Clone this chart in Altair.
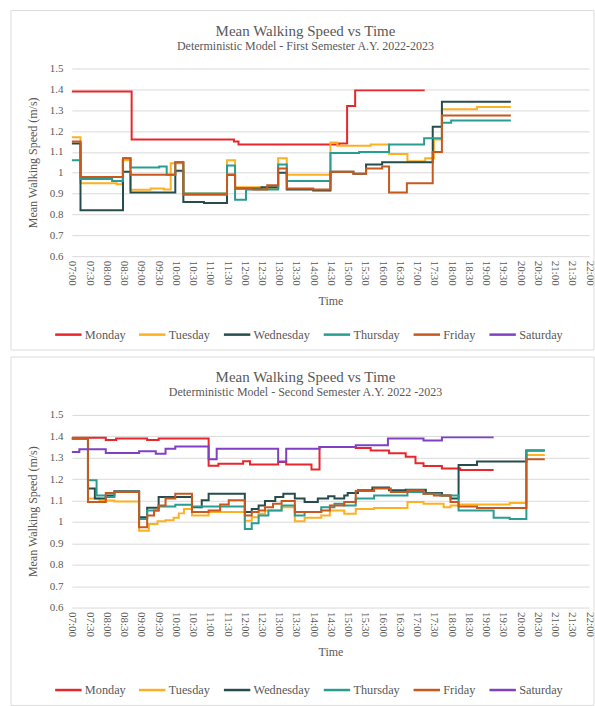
import json
import altair as alt
import pandas as pd

# Series order, colours and axis labels
DAYS = ["Monday", "Tuesday", "Wednesday", "Thursday", "Friday", "Saturday"]
COLORS = ["#E8262B", "#FDB022", "#264D4C", "#2A9D93", "#C7591F", "#8040C4"]
TIME_LABELS = ["07:00", "07:30", "08:00", "08:30", "09:00", "09:30", "10:00", "10:30",
               "11:00", "11:30", "12:00", "12:30", "13:00", "13:30", "14:00", "14:30",
               "15:00", "15:30", "16:00", "16:30", "17:00", "17:30", "18:00", "18:30",
               "19:00", "19:30", "20:00", "20:30", "21:00", "21:30", "22:00"]
SPEED_TICKS = [0.6, 0.7, 0.8, 0.9, 1.0, 1.1, 1.2, 1.3, 1.4, 1.5]
TITLE = "Mean Walking Speed vs Time"
SUBTITLE_1 = "Deterministic Model - First Semester A.Y. 2022-2023"
SUBTITLE_2 = "Deterministic Model - Second Semester A.Y. 2022 -2023"

# First semester: (time the level starts, mean speed m/s); last entry closes the run
sem1_monday = [("07:00", 1.39), ("08:44", 1.16), ("11:42", 1.15), ("11:50", 1.135),
               ("14:45", 1.14), ("14:59", 1.32), ("15:13", 1.395), ("17:14", 1.395)]
sem1_tuesday = [("07:00", 1.17), ("07:15", 0.95), ("08:18", 0.945), ("08:28", 1.06),
                ("08:42", 0.918), ("09:17", 0.925), ("09:40", 0.92), ("09:52", 1.045),
                ("10:14", 0.90), ("11:30", 1.06), ("11:44", 0.93), ("12:30", 0.925),
                ("12:59", 1.07), ("13:14", 0.99), ("14:30", 1.145), ("14:42", 1.13),
                ("15:40", 1.135), ("16:12", 1.09), ("16:44", 1.055), ("17:15", 1.07),
                ("17:30", 1.16), ("17:44", 1.305), ("18:45", 1.315), ("19:44", 1.315)]
sem1_wednesday = [("07:00", 1.14), ("07:15", 0.82), ("08:29", 1.005), ("08:42", 0.905),
                  ("10:00", 1.01), ("10:14", 0.86), ("10:50", 0.855), ("11:30", 0.99),
                  ("11:44", 0.925), ("12:30", 0.93), ("12:59", 1.0), ("13:14", 0.92),
                  ("14:00", 0.915), ("14:30", 1.005), ("15:10", 0.995), ("15:32", 1.04),
                  ("16:00", 1.05), ("17:28", 1.22), ("17:44", 1.34), ("19:44", 1.34)]
sem1_thursday = [("07:00", 1.06), ("07:15", 0.97), ("08:10", 0.96), ("08:29", 1.07),
                 ("08:42", 1.025), ("09:32", 1.03), ("09:45", 0.99), ("10:00", 1.05),
                 ("10:14", 0.90), ("11:30", 1.035), ("11:44", 0.87), ("12:03", 0.92),
                 ("12:59", 1.04), ("13:14", 0.96), ("14:30", 1.095), ("15:20", 1.10),
                 ("16:12", 1.135), ("17:13", 1.165), ("17:44", 1.24), ("18:00", 1.25),
                 ("19:44", 1.25)]
sem1_friday = [("07:00", 1.15), ("07:15", 0.98), ("08:29", 1.07), ("08:42", 0.99),
               ("10:00", 1.05), ("10:14", 0.895), ("11:30", 0.99), ("11:44", 0.925),
               ("12:15", 0.92), ("12:40", 0.94), ("12:59", 1.02), ("13:14", 0.925),
               ("14:00", 0.92), ("14:30", 1.005), ("15:10", 0.995), ("15:32", 1.02),
               ("16:00", 1.03), ("16:12", 0.905), ("16:43", 0.95), ("17:28", 1.10),
               ("17:44", 1.275), ("19:44", 1.275)]

# Second semester
sem2_monday = [("07:00", 1.393), ("07:59", 1.383), ("08:17", 1.39), ("09:11", 1.383),
               ("09:31", 1.39), ("10:58", 1.263), ("11:15", 1.272), ("11:58", 1.283),
               ("12:10", 1.268), ("12:59", 1.28), ("13:13", 1.268), ("13:57", 1.245),
               ("14:11", 1.35), ("15:14", 1.345), ("15:40", 1.334), ("16:12", 1.321),
               ("16:41", 1.305), ("16:58", 1.274), ("17:12", 1.261), ("17:44", 1.25),
               ("18:16", 1.243), ("19:14", 1.243)]
sem2_tuesday = [("07:00", 1.39), ("07:28", 1.109), ("07:48", 1.10), ("08:14", 1.096),
                ("08:57", 0.959), ("09:14", 0.99), ("09:29", 1.003), ("09:43", 1.008),
                ("09:57", 1.02), ("10:06", 1.04), ("10:15", 1.061), ("10:29", 1.03),
                ("10:58", 1.046), ("12:01", 1.006), ("12:13", 1.022), ("12:25", 1.038),
                ("12:36", 1.053), ("13:05", 1.069), ("13:28", 1.003), ("13:45", 1.019),
                ("14:14", 1.03), ("14:29", 1.053), ("14:54", 1.038), ("15:14", 1.061),
                ("15:46", 1.065), ("16:44", 1.093), ("17:12", 1.085), ("17:47", 1.069),
                ("17:59", 1.077), ("18:13", 1.082), ("19:42", 1.088), ("20:11", 1.313),
                ("20:43", 1.313)]
sem2_wednesday = [("07:00", 1.39), ("07:28", 1.156), ("07:40", 1.109), ("07:59", 1.124),
                  ("08:14", 1.143), ("08:57", 1.022), ("09:11", 1.066), ("09:31", 1.117),
                  ("10:29", 1.069), ("10:46", 1.101), ("10:58", 1.132), ("12:01", 1.046),
                  ("12:13", 1.061), ("12:25", 1.077), ("12:36", 1.098), ("12:54", 1.117),
                  ("13:08", 1.132), ("13:28", 1.109), ("13:45", 1.093), ("14:08", 1.109),
                  ("14:26", 1.12), ("14:37", 1.109), ("14:54", 1.124), ("15:00", 1.135),
                  ("15:18", 1.148), ("15:43", 1.161), ("16:12", 1.148), ("16:41", 1.15),
                  ("17:16", 1.135), ("17:44", 1.124), ("17:59", 1.109), ("18:13", 1.266),
                  ("18:45", 1.282), ("20:11", 1.334), ("20:43", 1.334)]
sem2_thursday = [("07:00", 1.39), ("07:28", 1.195), ("07:43", 1.124), ("07:59", 1.117),
                 ("08:14", 1.14), ("08:57", 1.014), ("09:11", 1.053), ("09:31", 1.072),
                 ("10:00", 1.08), ("10:29", 1.072), ("12:01", 0.967), ("12:13", 0.994),
                 ("12:25", 1.03), ("12:42", 1.053), ("13:05", 1.077), ("13:28", 1.03),
                 ("13:45", 1.046), ("14:14", 1.069), ("14:37", 1.085), ("14:54", 1.077),
                 ("15:14", 1.109), ("15:46", 1.124), ("16:44", 1.14), ("17:12", 1.132),
                 ("17:41", 1.124), ("18:13", 1.053), ("19:14", 1.019), ("19:42", 1.014),
                 ("20:11", 1.334), ("20:43", 1.334)]
sem2_friday = [("07:00", 1.39), ("07:28", 1.093), ("07:59", 1.135), ("08:14", 1.14),
               ("08:57", 0.975), ("09:11", 1.03), ("09:23", 1.053), ("09:31", 1.077),
               ("09:43", 1.109), ("10:00", 1.132), ("10:29", 1.046), ("10:58", 1.053),
               ("11:18", 1.082), ("11:33", 1.101), ("12:01", 1.03), ("12:13", 1.046),
               ("12:25", 1.053), ("12:36", 1.069), ("12:50", 1.085), ("13:05", 1.098),
               ("13:28", 1.046), ("14:14", 1.053), ("14:29", 1.077), ("14:54", 1.093),
               ("15:14", 1.145), ("15:46", 1.156), ("16:15", 1.14), ("16:44", 1.148),
               ("17:12", 1.132), ("17:30", 1.124), ("17:59", 1.093), ("18:13", 1.072),
               ("18:45", 1.065), ("20:11", 1.293), ("20:43", 1.293)]
sem2_saturday = [("07:00", 1.327), ("07:13", 1.34), ("07:59", 1.322), ("08:57", 1.33),
                 ("09:26", 1.318), ("09:43", 1.342), ("10:00", 1.352), ("10:58", 1.293),
                 ("11:12", 1.342), ("12:59", 1.282), ("13:13", 1.342), ("14:11", 1.35),
                 ("15:14", 1.358), ("16:10", 1.39), ("17:12", 1.38), ("17:44", 1.395),
                 ("19:14", 1.395)]

FONT = "Liberation Serif"
GREY = "#595959"
PLOT_W = 518


def minutes(hhmm):
    h, m = hhmm.split(":")
    return (int(h) - 7) * 60 + int(m)


def table(series):
    rows = []
    for day, pts in series.items():
        for t, v in pts:
            rows.append({"day": day, "minute": minutes(t), "speed": v})
    return pd.DataFrame(rows)


def panel(series, subtitle, height, legend_y, frame_bottom):
    df = table(series)
    x = alt.X("minute:Q",
              scale=alt.Scale(domain=[0, 900], nice=False, zero=False),
              axis=alt.Axis(values=list(range(0, 901, 30)),
                            labelExpr=json.dumps(TIME_LABELS) + "[round(datum.value / 30)]",
                            labelAngle=90, labelPadding=4, ticks=False, domain=False,
                            grid=False, title="Time", titlePadding=10))
    y = alt.Y("speed:Q",
              scale=alt.Scale(domain=[0.6, 1.5], nice=False, zero=False),
              axis=alt.Axis(values=SPEED_TICKS, format="~g", ticks=False, domain=False,
                            labelPadding=9, title="Mean Walking Speed (m/s)",
                            titlePadding=10))
    color = alt.Color("day:N", scale=alt.Scale(domain=DAYS, range=COLORS),
                      legend=alt.Legend(orient="none", direction="horizontal",
                                        legendX=-18, legendY=legend_y, title=None,
                                        symbolType="stroke", symbolSize=700,
                                        symbolStrokeWidth=2.5, columnPadding=8,
                                        labelOffset=2))
    heading = pd.DataFrame({"text": [TITLE, subtitle]})
    # light frame around the whole panel
    frame = (
        alt.Chart(pd.DataFrame({"panel": [0]}))
        .mark_rect(fillOpacity=0, stroke="#DCDCDC", strokeWidth=1)
        .encode(x=alt.value(-61), x2=alt.value(PLOT_W + 5), y=alt.value(-58),
                y2=alt.value(frame_bottom))
    )
    title = alt.Chart(heading.iloc[[0]]).mark_text(
        font=FONT, fontSize=15, color=GREY, align="center", baseline="alphabetic"
    ).encode(x=alt.value(PLOT_W / 2 - 25), y=alt.value(-33), text="text:N")
    sub = alt.Chart(heading.iloc[[1]]).mark_text(
        font=FONT, fontSize=12, color=GREY, align="center", baseline="alphabetic"
    ).encode(x=alt.value(PLOT_W / 2 - 25), y=alt.value(-19), text="text:N")
    layers = [
        alt.Chart(df).transform_filter(alt.datum.day == d)
        .mark_line(interpolate="step-after", strokeWidth=2)
        .encode(x=x, y=y, color=color)
        for d in DAYS if d in series
    ]
    return alt.layer(frame, title, sub, *layers).properties(width=PLOT_W, height=height)


top = panel({"Monday": sem1_monday, "Tuesday": sem1_tuesday, "Wednesday": sem1_wednesday,
             "Thursday": sem1_thursday, "Friday": sem1_friday},
            SUBTITLE_1, 188, 252, 282)
bottom = panel({"Monday": sem2_monday, "Tuesday": sem2_tuesday, "Wednesday": sem2_wednesday,
                "Thursday": sem2_thursday, "Friday": sem2_friday, "Saturday": sem2_saturday},
               SUBTITLE_2, 193, 261, 291)

chart = (
    alt.vconcat(top, bottom, spacing=5)
    .resolve_scale(color="independent")
    .properties(padding={"left": 10, "top": 9, "right": 0, "bottom": 0})
    .configure(background="white")
    .configure_view(stroke=None)
    .configure_axis(labelFont=FONT, labelFontSize=11, labelColor=GREY,
                    titleFont=FONT, titleFontSize=12, titleColor=GREY,
                    titleFontWeight="normal", gridColor="#D9D9D9")
    .configure_legend(labelFont=FONT, labelFontSize=12.3, labelColor=GREY)
)

chart.save("out.html", embed_options={"renderer": "svg", "actions": False})
